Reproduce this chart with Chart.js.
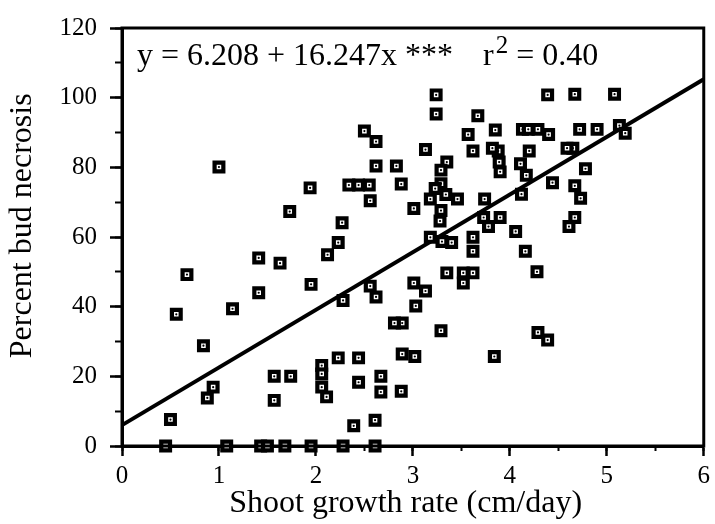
<!DOCTYPE html>
<html>
<head>
<meta charset="utf-8">
<script src="https://cdn.jsdelivr.net/npm/chart.js@4"></script>
<style>
  html, body { margin: 0; padding: 0; background: #fff; }
  #box { width: 715px; height: 524px; }
</style>
</head>
<body>
<div id="box"><canvas id="bud_chart"></canvas></div>
<script>
//
// data
//
var growthRate = [
  0.45, 1.08, 1.43, 1.50, 1.68, 1.95, 2.28, 2.61,
  0.67, 0.56, 0.84, 0.50, 1.41, 1.63, 1.14, 1.41, 0.94, 0.88,
  1.95, 2.12, 2.23, 2.28, 2.56, 2.62, 2.89, 2.81, 2.89, 2.88,
  1.57, 1.74, 1.57, 2.06, 2.06, 2.06, 2.11, 2.23, 2.44, 2.44,
  2.67, 2.67, 2.39, 2.61, 1.00, 2.50, 2.62, 2.62, 2.83, 2.34,
  2.44, 2.55, 2.88, 2.56, 1.94, 1.73, 2.27, 3.24, 3.24, 4.39,
  4.67, 5.08, 3.67, 3.85, 4.13, 4.19, 4.29, 4.40, 4.72, 4.90,
  5.13, 5.19, 3.57, 3.62, 3.13, 3.88, 3.82, 3.89, 3.90, 3.35,
  3.29, 3.29, 3.23, 3.34, 3.46, 3.18, 3.29, 3.28, 3.01, 4.20,
  4.65, 4.59, 4.11, 4.17, 4.12, 4.44, 4.78, 4.67, 4.73, 4.67,
  4.61, 3.74, 3.90, 3.73, 3.78, 4.06, 4.16, 4.28, 3.62, 3.62,
  3.40, 3.30, 3.18, 3.35, 3.52, 3.62, 3.52, 3.01, 3.13, 3.03,
  3.29, 3.02, 3.84, 4.29, 4.39
];
var budNecrosis = [
  0, 0, 0, 0, 0, 0, 0, 0,
  49.2, 37.8, 28.8, 7.6, 54.0, 52.5, 39.4, 44.0, 16.9, 13.8,
  46.4, 54.9, 58.4, 41.8, 45.9, 42.8, 35.3, 35.3, 26.4, 15.7,
  20.0, 20.0, 13.1, 23.1, 20.7, 16.9, 14.1, 25.3, 25.3, 18.3,
  20.0, 15.5, 5.8, 7.4, 80.1, 90.4, 87.4, 80.4, 80.4, 74.9,
  74.9, 74.9, 75.2, 70.4, 74.1, 67.3, 64.1, 100.8, 95.3, 100.8,
  101.0, 101.0, 94.8, 90.7, 90.9, 90.9, 90.9, 89.4, 90.9, 90.9,
  92.0, 89.8, 89.4, 84.7, 85.1, 84.7, 85.5, 81.5, 78.7, 81.5,
  79.2, 75.3, 73.9, 72.2, 70.9, 70.9, 67.6, 64.6, 68.2, 84.7,
  85.5, 85.5, 81.0, 77.7, 72.3, 75.6, 79.6, 74.7, 71.1, 65.6,
  63.0, 70.9, 65.6, 65.6, 63.0, 61.6, 55.9, 50.0, 59.9, 55.9,
  58.4, 58.7, 59.9, 49.7, 49.7, 49.7, 46.8, 46.8, 44.5, 40.2,
  33.1, 25.7, 25.7, 32.6, 30.4
];

// regression line as drawn in the figure (y = 6.208 + 16.247x)
var fitX = [0, 6];
var fitY = [6.0, 105.3];

var eqText = "y = 6.208 + 16.247x ***";
var rText = "r";
var rSup = "2";
var rValue = "= 0.40";

// the printed titles sit a little off centre, the spaces move them
var xTitle = "Shoot growth rate (cm/day)\u00a0\u2009";
var yTitle = "\u00a0\u00a0\u2009Percent bud necrosis";

var serif = "'Liberation Serif', 'Times New Roman', serif";

//
// build point objects for the chart
//
var points = [];
for (var i = 0; i < growthRate.length; i++) {
  points.push({x : growthRate[i], y : budNecrosis[i]});
}
var fitLine = [];
for (var j = 0; j < fitX.length; j++) {
  fitLine.push({x : fitX[j], y : fitY[j]});
}

//
// frame round the plot and the equation text
//
var framePlugin = {
  id : 'frame',
  afterDraw : function(chart) {
    var ctx = chart.ctx;
    var a = chart.chartArea;
    ctx.save();
    ctx.strokeStyle = '#000';
    ctx.lineWidth = 3;
    ctx.strokeRect(a.left, a.top, a.right - a.left, a.bottom - a.top);

    ctx.fillStyle = '#000';
    ctx.textBaseline = 'alphabetic';
    ctx.font = '32px ' + serif;
    var base = a.top + 37;
    ctx.fillText(eqText, a.left + 15, base);
    var rx = a.left + 361;
    ctx.fillText(rText, rx, base);
    var px = rx + ctx.measureText(rText).width + 2;
    ctx.font = '25px ' + serif;
    ctx.fillText(rSup, px, base - 12);
    px += ctx.measureText(rSup).width + 8;
    ctx.font = '32px ' + serif;
    ctx.fillText(rValue, px, base);
    ctx.restore();
  }
};

var tickFont = {family : serif, size : 25};
var titleFont = {family : serif, size : 32};

var config = {
  type : 'scatter',
  data : {
    datasets : [
      {
        label : 'fit',
        type : 'line',
        data : fitLine,
        borderColor : '#000',
        borderWidth : 4,
        pointRadius : 0,
        fill : false,
        clip : false,
        order : 3
      },
      {
        label : 'shoots',
        data : points,
        pointStyle : 'rect',
        pointRadius : 6.2,
        pointHoverRadius : 6.2,
        pointBorderWidth : 4.2,
        pointBorderColor : '#000',
        pointBackgroundColor : '#fff',
        clip : false,
        order : 2
      },
      {
        label : 'dots',
        data : points,
        pointStyle : 'circle',
        pointRadius : 1.1,
        pointHoverRadius : 1.1,
        pointBorderWidth : 0,
        pointBackgroundColor : '#000',
        clip : false,
        order : 1
      }
    ]
  },
  options : {
    responsive : false,
    animation : false,
    events : [],
    layout : {padding : {top : 25, right : 8, bottom : 0, left : 0}},
    plugins : {
      legend : {display : false},
      tooltip : {enabled : false}
    },
    scales : {
      x : {
        type : 'linear',
        position : 'bottom',
        weight : 1,
        min : 0,
        max : 6,
        ticks : {stepSize : 1, font : tickFont, color : '#000', padding : 5},
        grid : {
          drawOnChartArea : false,
          tickLength : 10,
          tickWidth : 2.5,
          tickColor : '#000'
        },
        border : {display : true, color : '#000', width : 3},
        title : {
          display : true,
          text : xTitle,
          font : titleFont,
          color : '#000',
          padding : {top : 0, bottom : 1}
        },
        afterFit : function(scale) { scale.height = 78; }
      },
      xMinor : {
        type : 'linear',
        position : 'bottom',
        weight : 0,
        min : 0,
        max : 6,
        ticks : {stepSize : 0.5, display : false},
        grid : {
          drawOnChartArea : false,
          tickLength : 5,
          tickWidth : 2,
          tickColor : '#000'
        },
        border : {display : false},
        afterFit : function(scale) { scale.height = 0; }
      },
      y : {
        type : 'linear',
        position : 'left',
        weight : 1,
        min : 0,
        max : 120,
        ticks : {stepSize : 20, font : tickFont, color : '#000', padding : 13},
        grid : {
          drawOnChartArea : false,
          tickLength : 12,
          tickWidth : 2.5,
          tickColor : '#000'
        },
        border : {display : true, color : '#000', width : 3},
        title : {
          display : true,
          text : yTitle,
          font : titleFont,
          color : '#000',
          padding : {top : 3, bottom : 0}
        },
        afterFit : function(scale) { scale.width = 122; }
      },
      yMinor : {
        type : 'linear',
        position : 'left',
        weight : 0,
        min : 0,
        max : 120,
        ticks : {stepSize : 10, display : false},
        grid : {
          drawOnChartArea : false,
          tickLength : 7,
          tickWidth : 2,
          tickColor : '#000'
        },
        border : {display : false},
        afterFit : function(scale) { scale.width = 0; }
      }
    }
  },
  plugins : [framePlugin]
};

function init_page() {
  var canvas = document.getElementById('bud_chart');
  canvas.width = 715;
  canvas.height = 524;
  canvas.style.width = '715px';
  canvas.style.height = '524px';
  new Chart(canvas.getContext('2d'), config);
}

init_page();
</script>
</body>
</html>
